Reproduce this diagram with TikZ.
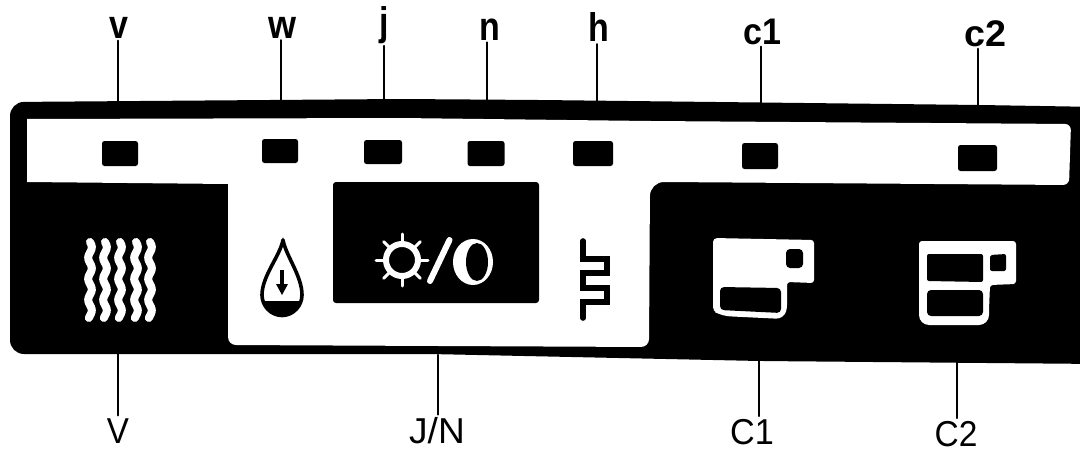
\documentclass[tikz,border=0pt]{standalone}
\usepackage{fontspec}
\usepackage{graphicx}
\setmainfont{Liberation Sans}
\tikzset{
  x=1pt,y=-1pt,
  leader/.style={black,line width=2.2pt,line cap=round},
  led/.style={fill=black,rounded corners=2.5pt,draw=none,inner sep=0pt},
  toplabel/.style={inner sep=2pt,font=\bfseries\fontsize{40}{40}\selectfont},
  botlabel/.style={inner sep=3pt,font=\fontsize{36}{36}\selectfont},
  whitefill/.style={fill=white,draw=none},
  blackfill/.style={fill=black,draw=none}
}
\newcommand{\narrowtxt}[2]{\scalebox{#1}[1]{#2}}
\begin{document}
\begin{tikzpicture}
\useasboundingbox (0,0) rectangle (1080,452);
% panel
\path[blackfill,rounded corners=14pt] (10,102) -- (400,99) -- (540,100) -- (980,105) -- (1100,107) -- (1100,364) -- (760,361) -- (430,354) -- (10,354) -- cycle;
\path[whitefill,rounded corners=6pt] (27,119) -- (400,118) -- (650,121) -- (1071,124) -- (1069,185) [sharp corners] -- (665,182) [rounded corners=14pt] -- (650,182) [rounded corners=8pt] -- (649,347) -- (228,345) [sharp corners] -- (228,184) -- (27,182) -- cycle;
\path[blackfill,rounded corners=3pt] (333,182) rectangle (539,303);
% LEDs
\node[led,minimum width=36pt,minimum height=25pt] (dv) at (120,153.5) {};
\node[led,minimum width=36pt,minimum height=24pt] (dw) at (280,151) {};
\node[led,minimum width=38pt,minimum height=24pt] (dj) at (383,152) {};
\node[led,minimum width=37pt,minimum height=25pt] (dn) at (486,153.5) {};
\node[led,minimum width=40pt,minimum height=25pt] (dh) at (593,153.5) {};
\node[led,minimum width=36pt,minimum height=26pt] (dc) at (760,156) {};
\node[led,minimum width=39pt,minimum height=26pt] (dd) at (977.5,158) {};
% top labels
\node[toplabel] (lv) at (119,28) {\narrowtxt{.85}{v}};
\node[toplabel] (lw) at (282,27.5) {\narrowtxt{.9}{w}};
\node[toplabel] (lj) at (384,25) {\narrowtxt{.85}{j}};
\node[toplabel] (ln) at (490,29.5) {\narrowtxt{.85}{n}};
\node[toplabel] (lh) at (599,27.5) {\narrowtxt{.85}{h}};
\node[toplabel,font=\bfseries\fontsize{37}{37}\selectfont] (lc) at (762,31.5) {\narrowtxt{.92}{c1}};
\node[toplabel,font=\bfseries\fontsize{37}{37}\selectfont] (ld) at (985,33.5) {\narrowtxt{1.02}{c2}};
\coordinate (pv) at (118,101);
\coordinate (pw) at (281,100);
\coordinate (pj) at (384,100);
\coordinate (pn) at (487,100);
\coordinate (ph) at (597,101);
\coordinate (pc) at (761,103);
\coordinate (pd) at (978,105);
\foreach \p/\l in {pv/lv,pw/lw,pj/lj,pn/ln,ph/lh,pc/lc,pd/ld}
  \draw[leader] (\p) -- (\p |- \l.south);
% bottom labels
\node[botlabel] (bv) at (118,431) {\narrowtxt{.92}{V}};
\node[botlabel] (bj) at (437,431) {\narrowtxt{1.03}{J/N}};
\node[botlabel] (bc) at (752,432) {\narrowtxt{.95}{C1}};
\node[botlabel] (bd) at (956,434) {\narrowtxt{.93}{C2}};
\coordinate (qv) at (118,354);
\coordinate (qj) at (438,355);
\coordinate (qc) at (759,360);
\coordinate (qd) at (957,362);
\foreach \p/\l in {qv/bv,qj/bj,qc/bc,qd/bd}
  \draw[leader] (\p) -- (\p |- \l.north);
% steam waves
\foreach \cx in {90,105,120,136,150}
  \draw[white,line width=8pt,line cap=round] plot[smooth,domain=242:318,samples=50,variable=\t] ({\cx+1.8*sin(17.1*(\t-242))},\t);
% water drop
\begin{scope}
  \clip (250,301) rectangle (315,325);
  \fill[black] (262,295) .. controls (262,306) and (271,316) .. (282,316) .. controls (293,316) and (302,306) .. (302,295) -- cycle;
\end{scope}
\draw[black,line width=3.6pt,line join=round] (283,240) .. controls (280,256) and (262,276) .. (262,295) .. controls (262,306) and (271,315.5) .. (282,315.5) .. controls (293,315.5) and (302,306) .. (302,295) .. controls (302,276) and (286,256) .. (283,240) -- cycle;
\fill[black] (283,237) -- (281,246) -- (285,246) -- cycle;
\draw[black,line width=3.6pt] (282,270) -- (282,286);
\fill[black] (276,284) -- (288,284) -- (282,295) -- cycle;
% sun
\draw[white,line width=6pt] (402,260) circle[radius=16];
\foreach \a in {0,45,...,315}
  \draw[white,line width=3pt,line cap=round] (402,260) ++(\a:17) -- ++(\a:9);
% slash
\draw[white,line width=6pt,line cap=round] (449.5,240) -- (430,281);
% moon
\fill[white] (473,262) ellipse[x radius=20,y radius=23];
\fill[black] (477,262) ellipse[x radius=11,y radius=19];
% heater
\draw[black,line width=5.6pt,line join=miter,line cap=round] (583,241) -- (583,259) -- (607,259) -- (607,273) -- (583,273) -- (583,288) -- (607,288) -- (607,302) -- (583,302) -- (583,318);
% cup 1
\path[whitefill,rounded corners=3pt] (713,238) -- (814,240) -- (814,283) -- (787,282) -- (787,308) [rounded corners=8pt] -- (784,319) -- (722,316) [rounded corners=4pt] -- (713,311) -- cycle;
\path[blackfill,rounded corners=4pt] (720,287) -- (781,288) -- (781,313) -- (720,310) -- cycle;
\path[blackfill,rounded corners=4pt] (786,249) -- (803,249) -- (803,268) -- (786,268) -- cycle;
% cup 2
\path[whitefill,rounded corners=3pt] (919,241) -- (1016,241) -- (1016,284) -- (990,285) -- (989,310) [rounded corners=10pt] -- (989,325) -- (919,325) [rounded corners=3pt] -- cycle;
\path[blackfill,rounded corners=2pt] (927,254) -- (983,254) -- (983,282) -- (927,281) -- cycle;
\path[blackfill,rounded corners=4pt] (927,290) -- (983,290) -- (983,316) -- (927,316) -- cycle;
\path[blackfill,rounded corners=2pt] (990,255) -- (1006,254) -- (1006,271) -- (990,271) -- cycle;
\end{tikzpicture}
\end{document}
